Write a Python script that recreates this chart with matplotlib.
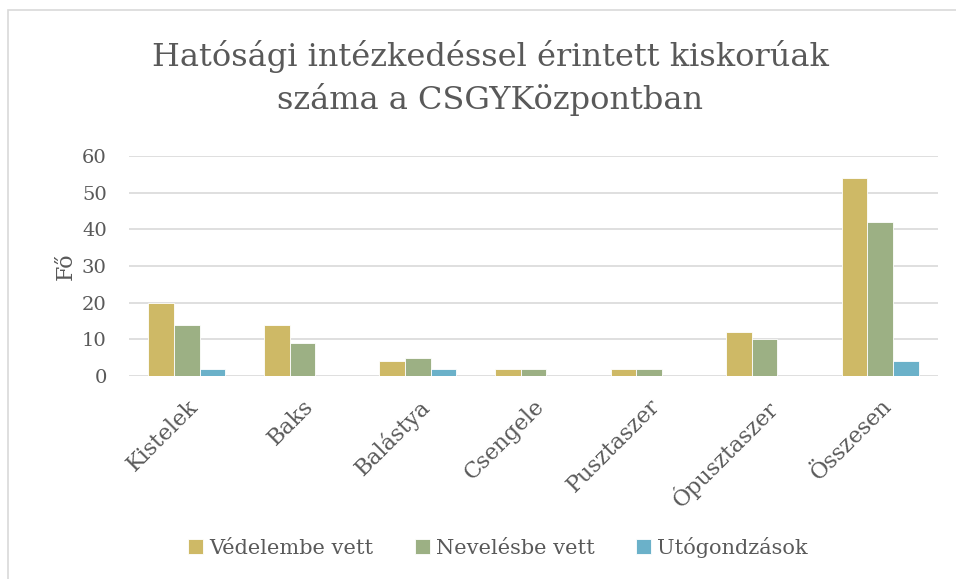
import matplotlib
matplotlib.use("Agg")
from matplotlib import pyplot as plt
from matplotlib.patches import Rectangle
import numpy as np

plt.rcParams["font.family"] = ["DejaVu Serif"]

categories = ["Kistelek", "Baks", "Balástya", "Csengele", "Pusztaszer", "Ópusztaszer", "Összesen"]
vedelembe = [20, 14, 4, 2, 2, 12, 54]
nevelesbe = [14, 9, 5, 2, 2, 10, 42]
utogondozas = [2, 0, 2, 0, 0, 0, 4]
series_names = ["Védelembe vett", "Nevelésbe vett", "Utógondzások"]
colors = ["#CEB966", "#9CB084", "#6BB1C9"]
text_color = "#595959"

fig = plt.figure(figsize=(9.56, 5.79), dpi=100)
ax = fig.add_axes([129 / 956, 1 - 376 / 579, (938 - 129) / 956, (376 - 156) / 579])

x = np.arange(len(categories))
w = 0.222
for i, (vals, name) in enumerate(zip([vedelembe, nevelesbe, utogondozas], series_names)):
    ax.bar(x + (i - 1) * w, vals, width=w, color=colors[i], label=name,
           edgecolor="white", linewidth=0.6, zorder=3)

ax.set_xlim(-0.5, len(categories) - 0.5)
ax.set_ylim(0, 60)
ax.set_yticks(range(0, 61, 10))
ax.yaxis.grid(True, color="#D9D9D9", linewidth=1.2, zorder=0)
ax.tick_params(axis="y", length=0, labelsize=14, labelcolor=text_color, pad=16)
ax.tick_params(axis="x", length=0, labelsize=16, labelcolor=text_color, pad=14)
ax.set_xticks(x)
ax.set_xticklabels(categories, rotation=45, ha="right", rotation_mode="anchor")
for s in ax.spines.values():
    s.set_visible(False)

ax.set_ylabel("Fő", fontsize=16, color=text_color, labelpad=4)

fig.text(0.513, 0.865, "Hatósági intézkedéssel érintett kiskorúak\nszáma a CSGYKözpontban",
         ha="center", va="center", fontsize=23, color=text_color, linespacing=1.4)

ax.legend(loc="center", bbox_to_anchor=(498 / 956, 1 - 547 / 579), bbox_transform=fig.transFigure,
          ncol=3, frameon=False, fontsize=15, labelcolor=text_color,
          handlelength=0.7, handleheight=0.7, handletextpad=0.3, columnspacing=2.0)

fig.patches.append(Rectangle((8 / 956, -0.05), 1.1, 1 - 9.5 / 579 + 0.05, transform=fig.transFigure,
                             fill=False, edgecolor="#D9D9D9", linewidth=1.2))

fig.savefig("out.png", dpi=100)
